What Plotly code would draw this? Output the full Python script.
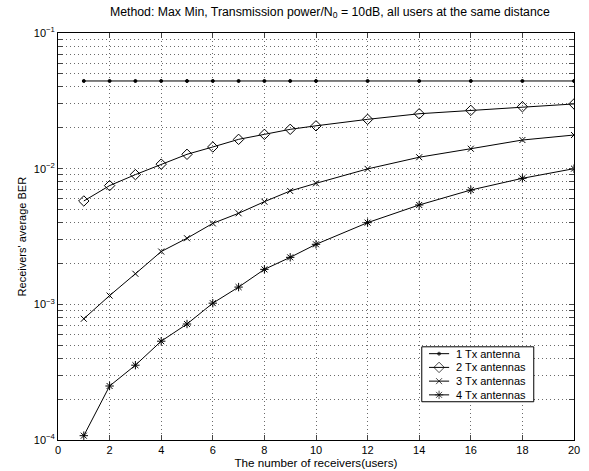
import plotly.graph_objects as go

users = [1, 2, 3, 4, 5, 6, 7, 8, 9, 10, 12, 14, 16, 18, 20]
ber_1tx = [0.0443] * 15
ber_2tx = [0.00578, 0.0075, 0.00904, 0.0108, 0.01276, 0.01445, 0.01645, 0.0179,
           0.0195, 0.0207, 0.0231, 0.0254, 0.0269, 0.0286, 0.0300]
ber_3tx = [0.000783, 0.00116, 0.00168, 0.00245, 0.00307, 0.00395, 0.00469, 0.00571,
           0.00685, 0.0078, 0.00996, 0.01214, 0.01403, 0.01626, 0.0177]
ber_4tx = [0.0001076, 0.00025, 0.000356, 0.000535, 0.000716, 0.00102, 0.00134, 0.00181,
           0.00222, 0.00277, 0.0040, 0.0054, 0.00696, 0.00849, 0.0100]
names = ["1 Tx antenna", "2 Tx antennas", "3 Tx antennas", "4 Tx antennas"]
x_ticks = [0, 2, 4, 6, 8, 10, 12, 14, 16, 18, 20]

FONT = "Liberation Sans, Arial, Helvetica, sans-serif"

styles = [
    dict(symbol="circle", size=3),
    dict(symbol="diamond-open", size=8),
    dict(symbol="x-thin-open", size=6),
    dict(symbol="asterisk-open", size=7),
]

fig = go.Figure()
for name, ys, st in zip(names, [ber_1tx, ber_2tx, ber_3tx, ber_4tx], styles):
    fig.add_trace(go.Scatter(
        x=users, y=ys, name=name, mode="lines+markers", showlegend=False,
        line=dict(color="black", width=1),
        marker=dict(symbol=st["symbol"], size=st["size"], color="black",
                    line=dict(color="black", width=1)),
    ))

# custom compact legend (MATLAB style) on an overlay axis spanning the plot area [0,1]x[0,1]
LEG_X0, LEG_X1, LEG_Y0, LEG_Y1 = 0.705, 0.922, 0.094, 0.229
row_step = (LEG_Y1 - LEG_Y0) / 4
line_x0, line_x1 = LEG_X0 + 0.014, LEG_X0 + 0.053
text_x = LEG_X0 + 0.062
fig.add_trace(go.Scatter(
    x=[LEG_X0, LEG_X1, LEG_X1, LEG_X0, LEG_X0],
    y=[LEG_Y0, LEG_Y0, LEG_Y1, LEG_Y1, LEG_Y0],
    xaxis="x2", yaxis="y2", mode="lines", fill="toself", fillcolor="white",
    line=dict(color="black", width=1), showlegend=False, hoverinfo="skip",
))
for i, (name, st) in enumerate(zip(names, styles)):
    yc = LEG_Y1 - row_step * (i + 0.5)
    xm = (line_x0 + line_x1) / 2
    fig.add_trace(go.Scatter(
        x=[line_x0, xm, line_x1], y=[yc, yc, yc], xaxis="x2", yaxis="y2",
        mode="lines+markers", showlegend=False, hoverinfo="skip",
        line=dict(color="black", width=1),
        marker=dict(symbol=st["symbol"], size=[0, st["size"], 0], color="black",
                    line=dict(color="black", width=1)),
    ))
    fig.add_annotation(x=text_x, y=yc, xref="paper", yref="paper", text=name,
                       showarrow=False, xanchor="left", yanchor="middle",
                       font=dict(size=11, color="black"))

# y-axis title placed like MATLAB's
fig.add_annotation(x=-0.07, y=0.5, xref="paper", yref="paper",
                   text="Receivers' average BER", textangle=-90, showarrow=False,
                   xanchor="center", yanchor="middle", font=dict(size=11, color="black"))

# log-axis ticks: all 1..9 per decade, labels only at decades
yvals, ytext = [], []
for e in range(-4, 0):
    for m in range(1, 10):
        if e == -1 and m > 1:
            break
        yvals.append(m * 10.0 ** e)
        ytext.append(f"10<sup>−{-e}</sup>" if m == 1 else "")

grid = dict(gridcolor="#6a6a6a", griddash="1px,3px", gridwidth=1)

fig.update_layout(
    width=589, height=471,
    margin=dict(l=58, r=15, t=33, b=31),
    paper_bgcolor="white", plot_bgcolor="white",
    font=dict(family=FONT, size=11, color="black"),
    title=dict(text="Method: Max Min, Transmission power/N<sub>0</sub> = 10dB, all users at the same distance",
               x=0.56, xanchor="center", y=0.985, yanchor="top",
               font=dict(size=12.3)),
    showlegend=False,
    xaxis=dict(range=[0, 20], tickvals=x_ticks, ticks="inside", ticklen=5,
               showline=True, linecolor="black", linewidth=1, mirror="ticks",
               showgrid=True, zeroline=False, automargin=False,
               title=dict(text="The number of receivers(users)", standoff=0, font=dict(size=11.7)),
               **grid),
    yaxis=dict(type="log", range=[-4, -1], tickvals=yvals, ticktext=ytext,
               ticks="inside", ticklen=5,
               showline=True, linecolor="black", linewidth=1, mirror="ticks",
               showgrid=True, zeroline=False, automargin=False,
               **grid),
    xaxis2=dict(range=[0, 1], domain=[0, 1], overlaying="x", anchor="y2", visible=False),
    yaxis2=dict(range=[0, 1], domain=[0, 1], overlaying="y", anchor="x2", visible=False),
)

fig.write_html("out.html")
